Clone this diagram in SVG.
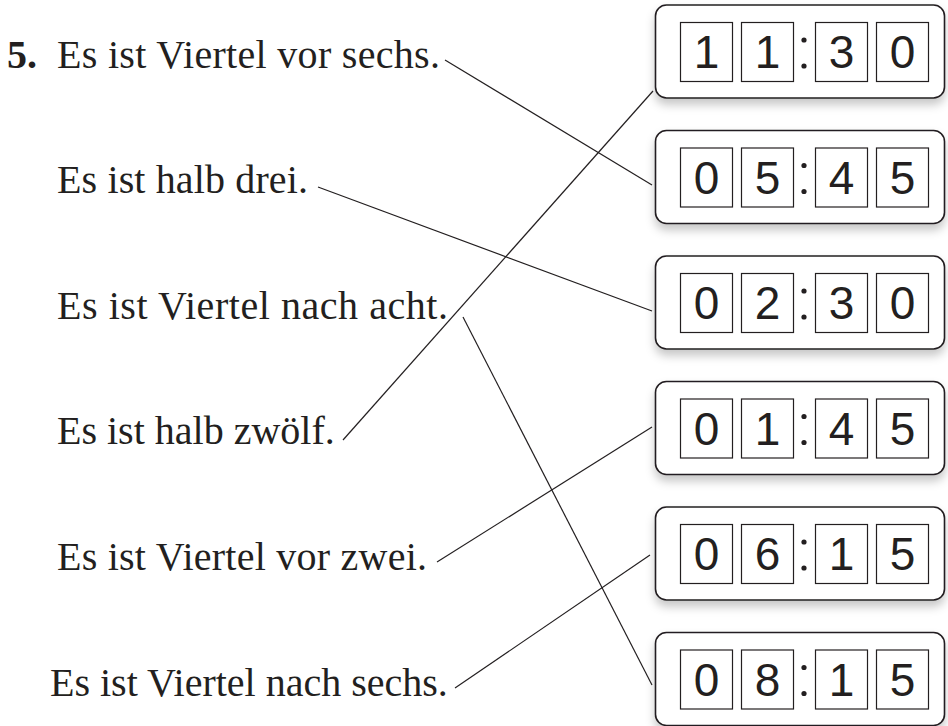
<svg xmlns="http://www.w3.org/2000/svg" width="948" height="726" viewBox="0 0 948 726">
<defs>
<filter id="sh" x="-10%" y="-20%" width="120%" height="150%">
<feDropShadow dx="0" dy="6" stdDeviation="5" flood-color="#000" flood-opacity="0.22"/>
</filter>
<g id="clockbase">
<rect x="655.5" y="0" width="289" height="93" rx="11" ry="11" fill="#fff" stroke="#231f20" stroke-width="1.6" filter="url(#sh)"/>
<rect class="cell" x="680.5" y="17.5" width="52" height="59"/>
<rect class="cell" x="741.5" y="17.5" width="52" height="59"/>
<rect class="cell" x="815.5" y="17.5" width="52" height="59"/>
<rect class="cell" x="876.5" y="17.5" width="52" height="59"/>
<circle cx="804" cy="35" r="2.6" fill="#231f20"/>
<circle cx="804" cy="61" r="2.6" fill="#231f20"/>
</g>
</defs>
<style>
.cell{fill:none;stroke:#231f20;stroke-width:1.2}
.dg{font-family:"Liberation Sans",Arial,sans-serif;font-size:46px;fill:#231f20;text-anchor:middle}
.tx{font-family:"Liberation Serif","Times New Roman",serif;font-size:40px;fill:#231f20}
.num{font-family:"Liberation Serif","Times New Roman",serif;font-size:40px;font-weight:bold;fill:#231f20}
.ln{stroke:#231f20;stroke-width:1.2;fill:none}
</style>
<rect width="948" height="726" fill="#fff"/>

<g id="clock-1130" transform="translate(0,5)">
<use href="#clockbase"/>
<text class="dg" x="706.5" y="63">1</text><text class="dg" x="767.5" y="63">1</text><text class="dg" x="841.5" y="63">3</text><text class="dg" x="902.5" y="63">0</text>
</g>
<g id="clock-0545" transform="translate(0,130.5)">
<use href="#clockbase"/>
<text class="dg" x="706.5" y="63">0</text><text class="dg" x="767.5" y="63">5</text><text class="dg" x="841.5" y="63">4</text><text class="dg" x="902.5" y="63">5</text>
</g>
<g id="clock-0230" transform="translate(0,256)">
<use href="#clockbase"/>
<text class="dg" x="706.5" y="63">0</text><text class="dg" x="767.5" y="63">2</text><text class="dg" x="841.5" y="63">3</text><text class="dg" x="902.5" y="63">0</text>
</g>
<g id="clock-0145" transform="translate(0,381.5)">
<use href="#clockbase"/>
<text class="dg" x="706.5" y="63">0</text><text class="dg" x="767.5" y="63">1</text><text class="dg" x="841.5" y="63">4</text><text class="dg" x="902.5" y="63">5</text>
</g>
<g id="clock-0615" transform="translate(0,507)">
<use href="#clockbase"/>
<text class="dg" x="706.5" y="63">0</text><text class="dg" x="767.5" y="63">6</text><text class="dg" x="841.5" y="63">1</text><text class="dg" x="902.5" y="63">5</text>
</g>
<g id="clock-0815" transform="translate(0,632.5)">
<use href="#clockbase"/>
<text class="dg" x="706.5" y="63">0</text><text class="dg" x="767.5" y="63">8</text><text class="dg" x="841.5" y="63">1</text><text class="dg" x="902.5" y="63">5</text>
</g>

<g id="s1"><text class="num" x="7" y="68">5.</text><text class="tx" x="57" y="68" textLength="383" lengthAdjust="spacing">Es ist Viertel vor sechs.</text></g>
<g id="s2"><text class="tx" x="57" y="193" textLength="251" lengthAdjust="spacing">Es ist halb drei.</text></g>
<g id="s3"><text class="tx" x="57" y="319" textLength="391" lengthAdjust="spacing">Es ist Viertel nach acht.</text></g>
<g id="s4"><text class="tx" x="57" y="444">Es ist halb zwölf.</text></g>
<g id="s5"><text class="tx" x="57" y="570" textLength="370" lengthAdjust="spacing">Es ist Viertel vor zwei.</text></g>
<g id="s6"><text class="tx" x="50" y="696">Es ist Viertel nach sechs.</text></g>

<g id="connectors">
<line class="ln" x1="445" y1="60" x2="652" y2="185"/>
<line class="ln" x1="318" y1="187" x2="652" y2="311"/>
<line class="ln" x1="463" y1="317" x2="652" y2="685"/>
<line class="ln" x1="343" y1="440" x2="653" y2="91"/>
<line class="ln" x1="437" y1="562" x2="652" y2="427"/>
<line class="ln" x1="455" y1="688" x2="650" y2="555"/>
</g>
</svg>
